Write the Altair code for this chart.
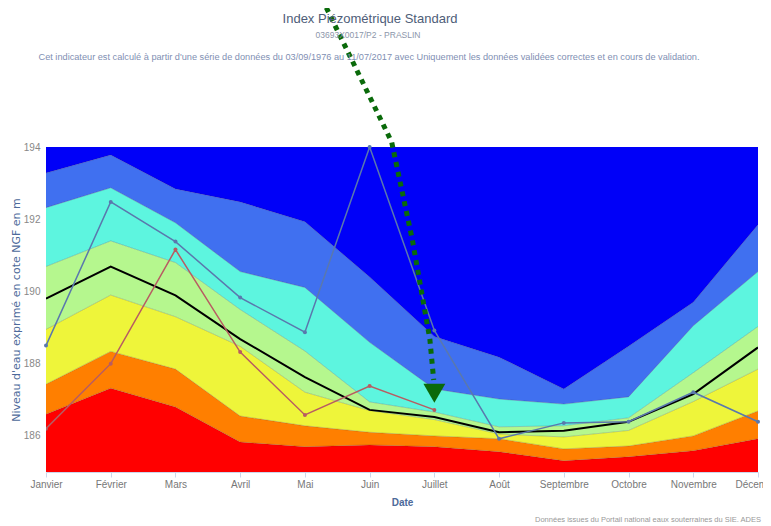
import altair as alt
import pandas as pd

months = ["Janvier", "Février", "Mars", "Avril", "Mai", "Juin", "Juillet",
          "Août", "Septembre", "Octobre", "Novembre", "Décembre"]

# band boundaries (m NGF), from bottom to top
y_floor = 185.0
y_ceil = 194.0
red_top    = [186.60, 187.32, 186.80, 185.83, 185.70, 185.75, 185.70, 185.56, 185.31, 185.42, 185.59, 185.92]
orange_top = [187.43, 188.34, 187.85, 186.55, 186.28, 186.10, 186.00, 185.92, 185.64, 185.72, 186.00, 186.69]
yellow_top = [188.95, 189.90, 189.30, 188.48, 187.21, 186.70, 186.45, 186.05, 185.97, 186.15, 186.95, 187.85]
green_top  = [190.69, 191.40, 190.80, 189.50, 188.35, 186.94, 186.66, 186.25, 186.28, 186.50, 187.75, 189.03]
cyan_top   = [192.32, 192.87, 191.90, 190.55, 190.11, 188.59, 187.30, 187.02, 186.88, 187.08, 189.05, 190.55]
royal_top  = [193.28, 193.78, 192.84, 192.48, 191.93, 190.40, 188.75, 188.18, 187.30, 188.48, 189.70, 191.85]

median = [189.80, 190.69, 189.89, 188.68, 187.63, 186.72, 186.52, 186.10, 186.14, 186.39, 187.16, 188.45]
serie_bleue = [188.50, 192.48, 191.38, 189.83, 188.87, 194.00, 188.92, 185.92, 186.36, 186.39, 187.21, 186.39]
serie_rouge = [186.20, 188.00, 191.16, 188.32, 186.58, 187.38, 186.72]

# dotted arrow annotation path (month index, level)
arrow_x = [4.33, 4.63, 5.34, 5.66, 5.93, 5.99]
arrow_y = [197.86, 196.76, 194.14, 191.43, 188.68, 187.55]
arrow_head_x = [6.0]
arrow_head_y = [187.18]

band_names = ["red", "orange", "yellow", "green", "cyan", "royal", "dark"]
band_colors = ["#FF0000", "#FF7F00", "#EEF53A", "#B5F78E", "#5DF5DF", "#4070F0", "#0000F8"]
bounds = [[y_floor] * 12, red_top, orange_top, yellow_top, green_top, cyan_top, royal_top, [y_ceil] * 12]

rows = []
for b, name in enumerate(band_names):
    for i in range(12):
        rows.append({"band": name, "m": i, "lo": bounds[b][i], "hi": bounds[b + 1][i]})
bands_df = pd.DataFrame(rows)

NARROW = "Liberation Sans Narrow, Liberation Sans, sans-serif"
label_expr = "[" + ",".join("'" + m + "'" for m in months) + "][datum.value]"

xscale = alt.Scale(domain=[0, 11], nice=False, zero=False)
yscale = alt.Scale(domain=[y_floor, y_ceil], nice=False, zero=False)
xaxis = alt.Axis(values=list(range(12)), labelExpr=label_expr, grid=False, labelFlush=False,
                 labelOverlap=False, domainColor="#ccd6eb", tickColor="#ccd6eb", tickSize=5,
                 labelColor="#777777", labelFont=NARROW, labelFontSize=10, labelPadding=2,
                 title="Date", titleColor="#4d6a9a", titleFont=NARROW, titleFontSize=10,
                 titleFontWeight="bold", titlePadding=8)
yaxis = alt.Axis(values=[186, 188, 190, 192, 194], grid=False, domain=False, ticks=False,
                 labelColor="#888888", labelFont=NARROW, labelFontSize=10, labelPadding=6,
                 title="Niveau d'eau exprimé en cote NGF en m", titleColor="#4d6a9a",
                 titleFont="DejaVu Sans", titleFontSize=11, titleFontWeight="normal", titlePadding=2)

def X(field):
    return alt.X(field, type="quantitative", scale=xscale, axis=xaxis)

def Y(field):
    return alt.Y(field, type="quantitative", scale=yscale, axis=yaxis)

areas = alt.Chart(bands_df).mark_area(clip=True, opacity=1).encode(
    x=X("m"), y=Y("lo"), y2="hi",
    color=alt.Color("band:N", scale=alt.Scale(domain=band_names, range=band_colors), legend=None),
)

edges = alt.Chart(bands_df[bands_df.band != "dark"]).mark_line(clip=True, strokeWidth=1, opacity=0.22, color="#333333").encode(
    x=X("m"), y=Y("hi"), detail="band:N")

med_df = pd.DataFrame({"m": list(range(12)), "v": median})
blue_df = pd.DataFrame({"m": list(range(12)), "v": serie_bleue})
red_df = pd.DataFrame({"m": list(range(len(serie_rouge))), "v": serie_rouge})

med = alt.Chart(med_df).mark_line(color="#000000", strokeWidth=2, clip=True).encode(x=X("m"), y=Y("v"))
blue = alt.Chart(blue_df).mark_line(color="#5a78ad", strokeWidth=1.5, clip=False,
                                    point=alt.OverlayMarkDef(color="#5a78ad", size=16, filled=True)).encode(x=X("m"), y=Y("v"))
red = alt.Chart(red_df).mark_line(color="#b85c62", strokeWidth=1.5, clip=True,
                                  point=alt.OverlayMarkDef(color="#b85c62", size=16, filled=True)).encode(x=X("m"), y=Y("v"))

arrow_df = pd.DataFrame({"m": arrow_x, "v": arrow_y, "o": list(range(len(arrow_x)))})
arrow = alt.Chart(arrow_df).mark_line(color="#0a6a0a", strokeWidth=5, strokeDash=[5, 5], clip=False).encode(
    x=X("m"), y=Y("v"), order="o:Q")
head_df = pd.DataFrame({"m": arrow_head_x, "v": arrow_head_y})
head = alt.Chart(head_df).mark_point(shape="triangle-down", filled=True, color="#0a6a0a", size=480,
                                     opacity=1, clip=False).encode(x=X("m"), y=Y("v"))

def txt(s, x, y, size, color, font=NARROW, align="center", weight="normal"):
    return alt.Chart(pd.DataFrame({"t": [s]})).mark_text(
        align=align, baseline="middle", fontSize=size, color=color, font=font, fontWeight=weight
    ).encode(text="t:N", x=alt.value(x), y=alt.value(y))

title = txt("Index Piézométrique Standard", 324, -128, 13, "#4e5d78")
sub1 = txt("03693X0017/P2 - PRASLIN", 322, -112, 8.5, "#8c96aa")
sub2 = txt("Cet indicateur est calculé à partir d'une série de données du 03/09/1976 au 11/07/2017 avec Uniquement les données validées correctes et en cours de validation.",
           323, -90, 9.2, "#7f8fb3")
credits = txt("Données issues du Portail national eaux souterraines du SIE. ADES", 715, 373, 7.5, "#999999", align="right")

chart = alt.layer(areas, edges, med, blue, red, arrow, head, title, sub1, sub2, credits).properties(
    width=712, height=325,
    autosize=alt.AutoSizeParams(type="none"),
    padding={"left": 38, "top": 139, "right": 5, "bottom": 52},
).configure_view(stroke=None)

chart.save("out.html", embed_options={"renderer": "svg", "actions": False})
